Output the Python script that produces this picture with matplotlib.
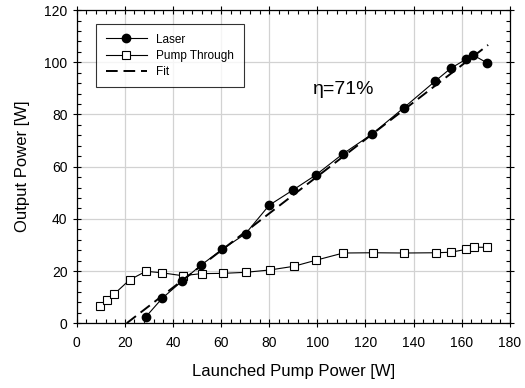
import matplotlib
matplotlib.use("Agg")
import matplotlib.pyplot as plt
import numpy as np
from matplotlib.ticker import MultipleLocator

plt.rcParams['font.family'] = ['Liberation Sans', 'DejaVu Sans']

# laser output
laser_x = [28.8, 35.6, 43.9, 51.6, 60.5, 70.2, 80.0, 90.0, 99.4, 110.5,
           122.8, 136.0, 148.9, 155.5, 161.7, 164.9, 170.7]
laser_y = [2.5, 9.6, 16.2, 22.2, 28.3, 34.3, 45.2, 51.1, 56.8, 64.8,
           72.5, 82.6, 92.7, 97.7, 101.1, 102.7, 99.7]

# unabsorbed pump
pump_x = [9.8, 12.6, 15.5, 22.0, 28.8, 35.6, 44.0, 51.9, 60.7, 70.2,
          80.3, 90.2, 99.3, 110.8, 123.0, 136.1, 149.3, 155.5, 161.9, 165.2, 170.7]
pump_y = [6.5, 8.9, 11.1, 16.6, 19.9, 19.3, 18.2, 19.0, 19.1, 19.5,
          20.4, 21.8, 24.1, 26.9, 27.0, 26.9, 27.0, 27.2, 28.3, 29.1, 29.1]

# linear fit
slope = 0.71
threshold = 20.8
fit_x = np.array([threshold, 171.0])
fit_y = slope * (fit_x - threshold)

fig = plt.figure(figsize=(5.25, 3.88), dpi=100)
ax = fig.add_axes([0.146, 0.167, 0.825, 0.807])

ax.plot(laser_x, laser_y, '-o', color='black', lw=0.8, ms=6, label='Laser', zorder=4)
ax.plot(pump_x, pump_y, '-s', color='black', mfc='white', mec='black', mew=0.8,
        lw=0.8, ms=6, label='Pump Through', zorder=3)
ax.plot(fit_x, fit_y, '--', color='black', lw=1.4, dashes=(6, 3), label='Fit', zorder=5)

ax.set_xlim(0, 180)
ax.set_ylim(0, 120)
ax.xaxis.set_major_locator(MultipleLocator(20))
ax.xaxis.set_minor_locator(MultipleLocator(4))
ax.yaxis.set_major_locator(MultipleLocator(20))
ax.yaxis.set_minor_locator(MultipleLocator(4))
ax.tick_params(which='major', direction='inout', length=6, width=0.8,
               top=True, right=True, labelsize=10)
ax.tick_params(axis='x', which='major', pad=6)
ax.tick_params(which='minor', direction='in', length=3, width=0.8,
               top=True, right=True)
ax.grid(True, which='major', color='#d2d2d2', lw=0.9)
ax.set_axisbelow(True)
for sp in ax.spines.values():
    sp.set_linewidth(0.9)

ax.set_xlabel('Launched Pump Power [W]', fontsize=12, labelpad=10)
ax.set_ylabel('Output Power [W]', fontsize=12, labelpad=10)

ax.text(98.3, 89.5, 'η=71%', fontsize=14, va='center', ha='left')

leg = ax.legend(loc='upper left', bbox_to_anchor=(0.045, 0.955), borderaxespad=0,
                fontsize=8.5, frameon=True, fancybox=False, edgecolor='black',
                handlelength=3.5, labelspacing=0.35, borderpad=0.8)
leg.get_frame().set_linewidth(0.8)

fig.savefig('out.png', dpi=100)
